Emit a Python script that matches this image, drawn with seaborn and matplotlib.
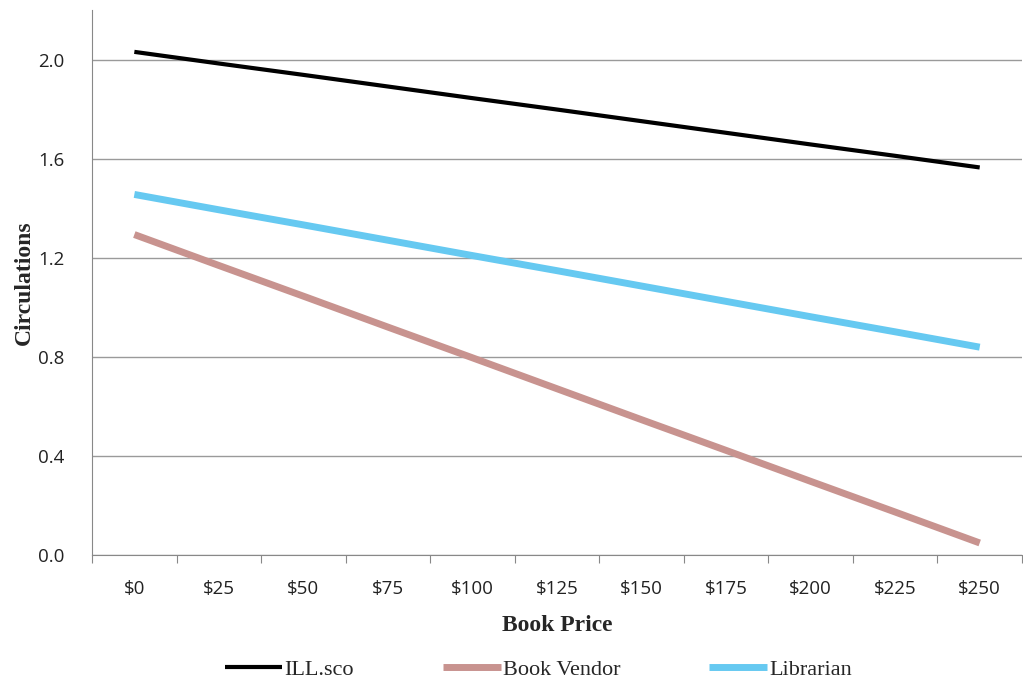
import matplotlib
matplotlib.use("Agg")
import matplotlib.pyplot as plt
import numpy as np
import pandas as pd
import seaborn as sns

# book price categories (x) and circulation estimates
prices = [0, 25, 50, 75, 100, 125, 150, 175, 200, 225, 250]
price_labels = ["$0", "$25", "$50", "$75", "$100", "$125", "$150", "$175", "$200", "$225", "$250"]
ill_sco = [2.032, 1.985, 1.939, 1.892, 1.845, 1.799, 1.752, 1.705, 1.658, 1.612, 1.565]
book_vendor = [1.294, 1.169, 1.045, 0.920, 0.796, 0.671, 0.546, 0.422, 0.297, 0.173, 0.048]
librarian = [1.456, 1.394, 1.333, 1.271, 1.209, 1.148, 1.086, 1.024, 0.962, 0.901, 0.839]
y_ticks = [0.0, 0.4, 0.8, 1.2, 1.6, 2.0]

series_names = ["ILL.sco", "Book Vendor", "Librarian"]
colors = {"ILL.sco": "#000000", "Book Vendor": "#C8938F", "Librarian": "#66C9F1"}
widths = {"ILL.sco": 3.0, "Book Vendor": 5.0, "Librarian": 5.0}

df = pd.DataFrame({
    "price": prices * 3,
    "circ": ill_sco + book_vendor + librarian,
    "series": np.repeat(series_names, len(prices)),
})

sns.set_style("white")
fig = plt.figure(figsize=(10.23, 6.85), dpi=100)
ax = fig.add_axes([0.090, 0.19, 0.909, 0.795])

for name in series_names:
    sub = df[df["series"] == name]
    sns.lineplot(data=sub, x="price", y="circ", ax=ax, color=colors[name],
                 linewidth=widths[name], label=name, solid_capstyle="butt")

ax.set_xlim(-12.5, 262.5)
ax.set_ylim(0, 2.2)
ax.set_xticks(prices)
ax.set_xticklabels(price_labels)
ax.set_xticks(np.arange(-12.5, 263, 25), minor=True)
ax.tick_params(axis="x", which="major", length=0, pad=18, labelsize=13.5, colors="#222222")
ax.tick_params(axis="x", which="minor", bottom=True, length=6, width=0.8,
               color="#888888", direction="out")
ax.set_yticks(y_ticks)
ax.set_yticklabels([f"{v:.1f}" for v in y_ticks])
ax.tick_params(axis="y", length=0, pad=20, labelsize=13.5, colors="#222222")
for lab in ax.get_xticklabels() + ax.get_yticklabels():
    lab.set_family("Open Sans")

ax.grid(axis="y", color="#9a9a9a", linewidth=1.0)
ax.grid(axis="x", visible=False)
ax.set_axisbelow(True)
for side in ["top", "right"]:
    ax.spines[side].set_visible(False)
ax.spines["left"].set_color("#888888")
ax.spines["bottom"].set_color("#888888")

ax.set_xlabel("Book Price", fontfamily="Liberation Serif", fontweight="bold",
              fontsize=17, labelpad=12)
ax.set_ylabel("Circulations", fontfamily="Liberation Serif", fontweight="bold",
              fontsize=17, labelpad=2)

leg = ax.legend(loc="upper center", bbox_to_anchor=(0.48, -0.155), ncol=3,
                frameon=False, handlelength=2.6, columnspacing=4.0, handletextpad=0.1,
                prop={"family": "Liberation Serif", "size": 16})

fig.savefig("out.png", dpi=100)
